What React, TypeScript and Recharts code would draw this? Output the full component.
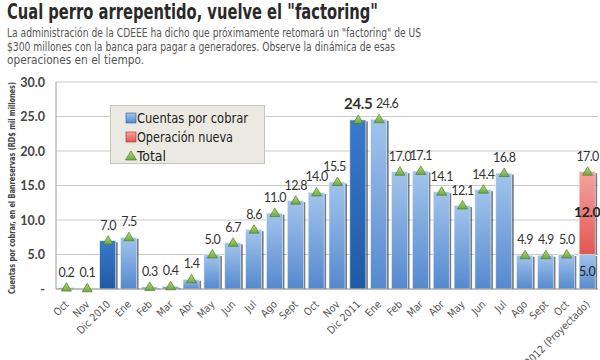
import React from "react";
import {
  ComposedChart,
  Bar,
  Line,
  XAxis,
  YAxis,
  CartesianGrid,
  Legend,
  LabelList,
} from "recharts";

const categories = [
  "Oct", "Nov", "Dic 2010", "Ene", "Feb", "Mar", "Abr", "May", "Jun", "Jul",
  "Ago", "Sept", "Oct", "Nov", "Dic 2011", "Ene", "Feb", "Mar", "Abr", "May",
  "Jun", "Jul", "Ago", "Sept", "Oct", "Dic 2012 (Proyectado)",
];

const cuentasPorCobrar = [
  0.2, 0.1, 7.0, 7.5, 0.3, 0.4, 1.4, 5.0, 6.7, 8.6, 11.0, 12.8, 14.0, 15.5,
  24.5, 24.6, 17.0, 17.1, 14.1, 12.1, 14.4, 16.8, 4.9, 4.9, 5.0, 5.0,
];

const operacionNueva = [
  0, 0, 0, 0, 0, 0, 0, 0, 0, 0, 0, 0, 0, 0, 0, 0, 0, 0, 0, 0, 0, 0, 0, 0, 0, 12.0,
];

const total = [
  0.2, 0.1, 7.0, 7.5, 0.3, 0.4, 1.4, 5.0, 6.7, 8.6, 11.0, 12.8, 14.0, 15.5,
  24.5, 24.6, 17.0, 17.1, 14.1, 12.1, 14.4, 16.8, 4.9, 4.9, 5.0, 17.0,
];

const yTicks = [0, 5, 10, 15, 20, 25, 30];

const title = 'Cual perro arrepentido, vuelve el "factoring"';
const subtitle = [
  'La administración de la CDEEE ha dicho que próximamente retomará un "factoring" de US',
  "$300 millones con la banca para pagar a generadores. Observe la dinámica de esas",
  "operaciones en el tiempo.",
];
const yLabel = "Cuentas por cobrar, en el Banreservas (RD$ mil millones)";
const emphasized = "Dic 2011";

const data = categories.map((name, i) => ({
  key: i,
  name,
  cuentas: cuentasPorCobrar[i],
  nueva: operacionNueva[i],
  total: total[i],
}));

const SANS = '"DejaVu Sans Condensed", "Liberation Sans Narrow", Lato, sans-serif';
const NUM = 'Lato, "Open Sans", sans-serif';
const last = categories.length - 1;
const emphIndex = categories.indexOf(emphasized);

const isDark = (i: number) =>
  categories[i].startsWith("Dic") && !categories[i].includes("Proyectado");

const BarShape = (props: any) => {
  const { x, y, width, height, index, red } = props;
  if (!height || height <= 0) return null;
  const fill = red ? "url(#gRed)" : isDark(index) ? "url(#gDark)" : "url(#gBlue)";
  return (
    <g>
      <rect x={x + 2} y={y + 1.5} width={width} height={height - 1.5} fill="#1c2633" opacity={0.6} />
      <rect x={x} y={y} width={width} height={height} fill={fill} stroke="#e8f0fa" strokeWidth={0.6} />
    </g>
  );
};

const Triangle = (props: any) => {
  const { cx, cy, index } = props;
  if (cx == null || cy == null) return <g key={index} />;
  return (
    <path
      key={index}
      d={`M${cx},${cy - 5} L${cx + 5},${cy + 3.5} L${cx - 5},${cy + 3.5} Z`}
      fill="url(#gGreen)"
      stroke="#4d7d28"
      strokeWidth={0.7}
    />
  );
};

const TotalLabel = (props: any) => {
  const { x, y, value, index } = props;
  const strong = index === emphIndex;
  const dx = index === emphIndex + 1 ? 8 : index === emphIndex - 1 ? -3 : 0;
  return (
    <text
      x={x + dx}
      y={y - 11}
      textAnchor="middle"
      fontFamily={NUM}
      fontSize={strong ? 15 : 12.5}
      fontWeight={strong ? 700 : 400}
      letterSpacing={strong ? -0.3 : -0.6}
      fill="#333"
    >
      {Number(value).toFixed(1)}
    </text>
  );
};

const InsideLabel = (props: any) => {
  const { x, y, width, height, value, index, bold } = props;
  if (index !== last || !value) return null;
  return (
    <text
      x={x + width / 2}
      y={y + height / 2 + 4}
      textAnchor="middle"
      fontFamily={NUM}
      fontSize={bold ? 14 : 12.5}
      fontWeight={bold ? 700 : 400}
      letterSpacing={-0.4}
      fill="#222"
    >
      {Number(value).toFixed(1)}
    </text>
  );
};

const XTick = (props: any) => {
  const { x, y, payload } = props;
  return (
    <text
      x={x + 3}
      y={y + 8}
      transform={`rotate(-45 ${x + 3} ${y + 8})`}
      textAnchor="end"
      fontFamily={SANS}
      fontSize={10.5}
      fill="#555"
    >
      {categories[payload.value]}
    </text>
  );
};

const YTick = (props: any) => {
  const { x, y, payload } = props;
  return (
    <text x={x - 3} y={y + 4.5} textAnchor="end" fontFamily={NUM} fontSize={12.5} fontWeight={700} fill="#444">
      {payload.value === 0 ? "-" : payload.value.toFixed(1)}
    </text>
  );
};

const LegendBox = () => (
  <svg width={156} height={60} style={{ display: "block" }}>
    <rect x={0.5} y={0.5} width={154} height={58} fill="#ebe9e2" stroke="#c6c4bc" />
    <rect x={16} y={8} width={10} height={10} fill="url(#gBlue)" stroke="#2f5f9e" strokeWidth={0.6} />
    <text x={27} y={18} fontFamily={SANS} fontSize={14} fill="#222" textLength={111} lengthAdjust="spacingAndGlyphs">
      Cuentas por cobrar
    </text>
    <rect x={16} y={27} width={10} height={10} fill="url(#gRed)" stroke="#9e2f2f" strokeWidth={0.6} />
    <text x={27} y={37} fontFamily={SANS} fontSize={14} fill="#222" textLength={96} lengthAdjust="spacingAndGlyphs">
      Operación nueva
    </text>
    <path d="M21,46 L26.5,55 L15.5,55 Z" fill="url(#gGreen)" stroke="#4d7d28" strokeWidth={0.7} />
    <text x={27} y={56} fontFamily={SANS} fontSize={14} fill="#222" textLength={29} lengthAdjust="spacingAndGlyphs">
      Total
    </text>
  </svg>
);

export default function App() {
  return (
    <div style={{ position: "absolute", left: 0, top: 0, width: 600, height: 360, background: "#fff", overflow: "hidden" }}>
      <svg width={0} height={0} style={{ position: "absolute" }}>
        <defs>
          <linearGradient id="gBlue" x1="0" y1="0" x2="0" y2="1">
            <stop offset="0%" stopColor="#a2c4ec" />
            <stop offset="100%" stopColor="#5489cf" />
          </linearGradient>
          <linearGradient id="gDark" x1="0" y1="0" x2="0" y2="1">
            <stop offset="0%" stopColor="#3a7acb" />
            <stop offset="100%" stopColor="#1f5aa6" />
          </linearGradient>
          <linearGradient id="gRed" x1="0" y1="0" x2="0" y2="1">
            <stop offset="0%" stopColor="#f5a3a0" />
            <stop offset="100%" stopColor="#e45651" />
          </linearGradient>
          <linearGradient id="gGreen" x1="0" y1="0" x2="0" y2="1">
            <stop offset="0%" stopColor="#b4dc7a" />
            <stop offset="100%" stopColor="#6fa83a" />
          </linearGradient>
        </defs>
      </svg>
      <svg width={600} height={75} style={{ position: "absolute", left: 0, top: 0 }}>
        <text x={7} y={19} fontFamily={SANS} fontSize={21} fontWeight={700} fill="#2a2a2a" textLength={371} lengthAdjust="spacingAndGlyphs">
          {title}
        </text>
        {subtitle.map((line, i) => (
          <text
            key={i}
            x={7}
            y={37 + i * 13.5}
            fontFamily={SANS}
            fontSize={13}
            fill="#555"
            textLength={i === 0 ? 414 : i === 1 ? 388 : 137}
            lengthAdjust="spacingAndGlyphs"
          >
            {line}
          </text>
        ))}
      </svg>
      <ComposedChart
        width={600}
        height={360}
        data={data}
        margin={{ top: 82, right: 2, bottom: 0, left: 0 }}
        barSize={16}
      >
        <CartesianGrid vertical={false} stroke="#c9c9c9" />
        <XAxis
          dataKey="key"
          interval={0}
          height={71}
          tick={<XTick />}
          tickLine={false}
          axisLine={{ stroke: "#9a9a9a" }}
        />
        <YAxis
          domain={[0, 30]}
          ticks={yTicks}
          width={56}
          tick={<YTick />}
          tickLine={false}
          axisLine={{ stroke: "#9a9a9a" }}
          label={{
            content: () => (
              <text
                x={15}
                y={188}
                transform="rotate(-90 15 188)"
                textAnchor="middle"
                fontFamily={SANS}
                fontSize={9.5}
                fontWeight={600}
                fill="#444"
                textLength={212}
                lengthAdjust="spacingAndGlyphs"
              >
                {yLabel}
              </text>
            ),
          }}
        />
        <Legend
          layout="horizontal"
          verticalAlign="middle"
          align="center"
          content={<LegendBox />}
          wrapperStyle={{ position: "absolute", left: 110, top: 105, width: 156, height: 60 }}
        />
        <Bar dataKey="cuentas" name="Cuentas por cobrar" stackId="a" shape={<BarShape />} isAnimationActive={false}>
          <LabelList dataKey="cuentas" content={<InsideLabel />} />
        </Bar>
        <Bar dataKey="nueva" name="Operación nueva" stackId="a" shape={<BarShape red />} isAnimationActive={false}>
          <LabelList dataKey="nueva" content={<InsideLabel bold />} />
        </Bar>
        <Line
          dataKey="total"
          name="Total"
          stroke="none"
          dot={Triangle}
          activeDot={false}
          isAnimationActive={false}
        >
          <LabelList dataKey="total" content={<TotalLabel />} />
        </Line>
      </ComposedChart>
    </div>
  );
}
